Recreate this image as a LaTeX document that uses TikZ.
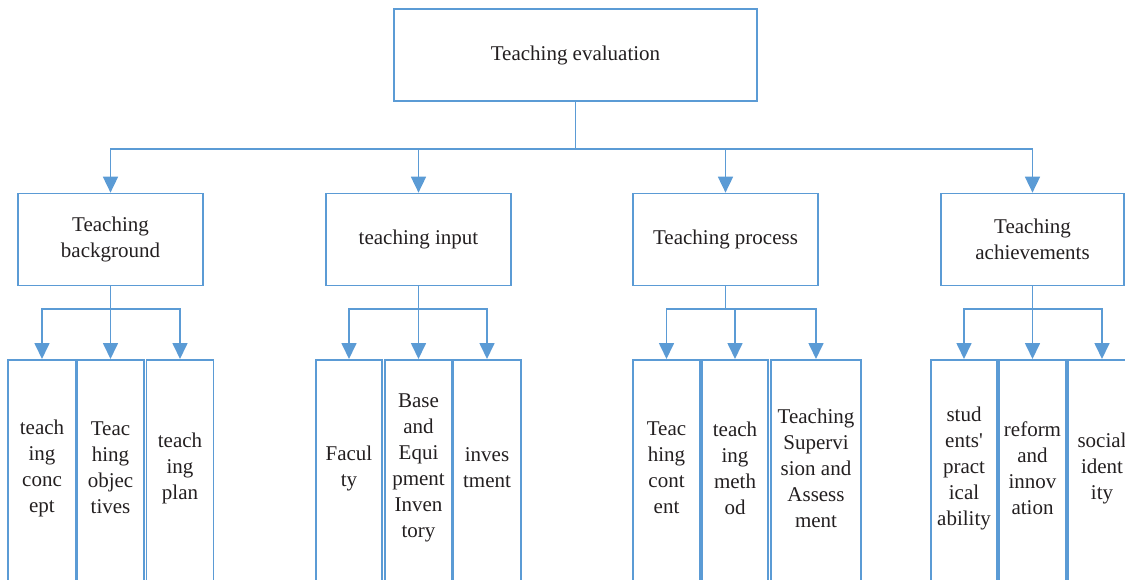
\documentclass[tikz,border=0pt]{standalone}
\usepackage{fontspec}
\setmainfont{Liberation Serif}
\usetikzlibrary{arrows.meta}
\definecolor{lineblue}{RGB}{91,155,213}
\definecolor{txt}{RGB}{35,31,32}
\begin{document}
\begin{tikzpicture}[x=1pt,y=-1pt,
  box/.style={draw=lineblue, line width=1.7pt, rectangle, inner sep=0pt, text=txt,
    font=\fontsize{21}{26}\selectfont, align=center},
  leafbox/.style={draw=lineblue, line width=1.7pt, rectangle, inner sep=0pt, anchor=north,
    minimum height=260pt},
  leaftext/.style={text=txt, font=\fontsize{21}{26}\selectfont, align=center, inner sep=0pt},
  conn/.style={draw=lineblue, line width=1.7pt, -{Triangle[width=15pt,length=16pt]}},
]
\useasboundingbox (0,0) rectangle (1125,579);
\clip (0,0) rectangle (1125,579);

% top
\node[box, minimum width=363pt, minimum height=92pt] (top) at (575.5,55) {Teaching evaluation};

% level 2
\node[box, minimum width=185pt, minimum height=92pt] (p1) at (110.5,239.5) {Teaching\\background};
\node[box, minimum width=185pt, minimum height=92pt] (p2) at (418.5,239.5) {teaching input};
\node[box, minimum width=185pt, minimum height=92pt] (p3) at (725.5,239.5) {Teaching process};
\node[box, minimum width=183pt, minimum height=92pt] (p4) at (1032.5,239.5) {Teaching\\achievements};

\foreach \p in {p1,p2,p3,p4}
  \draw[conn] (top.south) -- ++(0,47) -| (\p.north);

% leaves group 1
\node[leafbox, minimum width=68pt] (c11) at (42,359) {};
\node[leafbox, minimum width=67pt] (c12) at (110.5,359) {};
\node[leafbox, minimum width=67pt] (c13) at (180,359) {};
\node[leaftext] (t11) at (42,468) {teach\\ing\\conc\\ept};
\node[leaftext] (t12) at (110.5,468) {Teac\\hing\\objec\\tives};
\node[leaftext] (t13) at (180,468) {teach\\ing\\plan};

% leaves group 2
\node[leafbox, minimum width=66pt] (c21) at (349,359) {};
\node[leafbox, minimum width=67pt] (c22) at (418.5,359) {};
\node[leafbox, minimum width=68pt] (c23) at (487,359) {};
\node[leaftext] (t21) at (349,468) {Facul\\ty};
\node[leaftext] (t22) at (418.5,468) {Base\\and\\Equi\\pment\\Inven\\tory};
\node[leaftext] (t23) at (487,468) {inves\\tment};

% leaves group 3
\node[leafbox, minimum width=67pt] (c31) at (666.5,359) {};
\node[leafbox, minimum width=66pt] (c32) at (735,359) {};
\node[leafbox, minimum width=90pt] (c33) at (816,359) {};
\node[leaftext] (t31) at (666.5,468) {Teac\\hing\\cont\\ent};
\node[leaftext] (t32) at (735,468) {teach\\ing\\meth\\od};
\node[leaftext] (t33) at (816,468) {Teaching\\Supervi\\sion and\\Assess\\ment};

% leaves group 4
\node[leafbox, minimum width=66pt] (c41) at (964,359) {};
\node[leafbox, minimum width=67pt] (c42) at (1032.5,359) {};
\node[leafbox, minimum width=68pt] (c43) at (1102,359) {};
\node[leaftext] (t41) at (964,468) {stud\\ents\textquotesingle\\pract\\ical\\ability};
\node[leaftext] (t42) at (1032.5,468) {reform\\and\\innov\\ation};
\node[leaftext] (t43) at (1102,468) {social\\ident\\ity};

% connectors to leaves
\foreach \c in {c11,c12,c13} \draw[conn] (p1.south) -- ++(0,22.5) -| (\c.north);
\foreach \c in {c21,c22,c23} \draw[conn] (p2.south) -- ++(0,22.5) -| (\c.north);
\foreach \c in {c31,c32,c33} \draw[conn] (p3.south) -- ++(0,22.5) -| (\c.north);
\foreach \c in {c41,c42,c43} \draw[conn] (p4.south) -- ++(0,22.5) -| (\c.north);
\end{tikzpicture}
\end{document}
